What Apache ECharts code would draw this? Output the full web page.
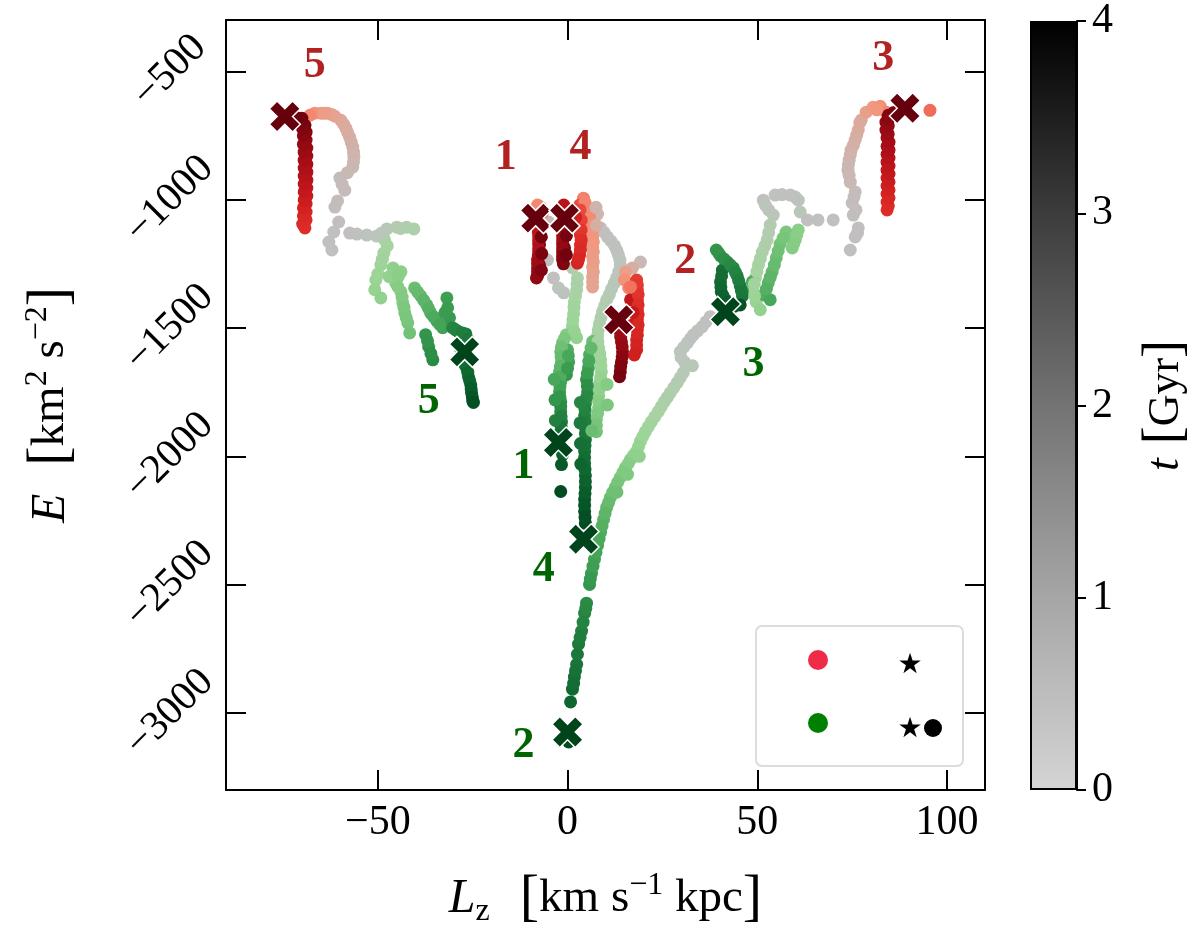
<!DOCTYPE html>
<html>
<head>
<meta charset="utf-8">
<script src="https://cdn.jsdelivr.net/npm/echarts@6/dist/echarts.min.js"></script>
<style>html,body{margin:0;padding:0;background:#fff}#c{width:1200px;height:948px}</style>
</head>
<body>
<div id="c"></div>
<script>
// Each point: [Lz (km s^-1 kpc), E (km^2 s^-2), t (Gyr)]
const red5 = [[-62.1,-1196,0.0],[-62.9,-1165,0.1],[-61.6,-1126,0.2],[-57.4,-1130,0.25],[-60.3,-1087,0.35],[-61.3,-1029,0.5],[-58.7,-963,0.6],[-60,-916,0.7],[-56.6,-873,0.85],[-56.3,-834,1.0],[-56.6,-795,1.1],[-57.4,-757,1.2],[-58.4,-722,1.3],[-59.7,-691,1.4],[-61.3,-675,1.5],[-63.2,-663,1.6],[-65,-663,1.7],[-66.6,-663,1.8],[-67.9,-671,1.9],
  [-69.2,-1110,2.5],[-68.9,-1079,2.6],[-68.9,-1048,2.7],[-68.9,-1017,2.8],[-68.7,-986,2.9],[-68.7,-955,3.0],[-68.7,-924,3.1],[-68.7,-893,3.2],[-68.7,-862,3.3],[-68.7,-830,3.4],[-68.7,-799,3.5],[-68.9,-768,3.6],[-68.9,-737,3.7],[-69.2,-710,3.8],[-70,-683,3.9],
  [-69.8,-1095,2.55],[-69.6,-1063,2.65],[-69.6,-1032,2.75],[-69.4,-1001,2.85],[-69.4,-970,2.95],[-69.4,-939,3.05],[-69.4,-908,3.15],[-69.4,-877,3.25],[-69.4,-846,3.35],[-69.4,-815,3.45],[-69.6,-784,3.55],[-69.6,-752,3.65],[-69.8,-724,3.75],[-70.5,-697,3.85],[-71.5,-680,3.95],
  [-60.6,-1005,0.55],[-59.4,-940,0.65],[-58,-895,0.78],[-56.4,-853,0.92],[-56.4,-815,1.05],[-57,-776,1.15],[-57.9,-740,1.25],[-59,-706,1.35],[-62.2,-668,1.55],[-64.1,-663,1.65]];
const green5 = [[-52.9,-1138,0.3],[-50.3,-1142,0.45],[-47.6,-1114,0.6],[-45,-1107,0.7],[-42.4,-1107,0.8],[-40.5,-1114,0.9],[-48.2,-1157,1.0],[-48.4,-1208,1.1],[-49.2,-1254,1.2],[-50.5,-1313,1.3],[-50.8,-1351,1.35],[-49.2,-1383,1.4],[-46,-1266,1.45],[-43.9,-1281,1.5],[-45.3,-1324,1.55],[-43.9,-1359,1.6],[-43.4,-1402,1.65],[-42.9,-1441,1.7],[-42.1,-1480,1.75],[-41.6,-1519,1.8],
  [-40.3,-1344,1.9],[-38.7,-1375,2.0],[-37.1,-1410,2.1],[-36.1,-1441,2.2],[-34.5,-1472,2.3],[-32.9,-1499,2.4],[-31.8,-1383,2.45],[-31.6,-1421,2.5],[-31.1,-1460,2.55],[-37.4,-1526,2.6],[-36.6,-1573,2.7],[-35.5,-1624,2.8],[-30.3,-1499,2.9],[-28.7,-1515,3.0],[-26.8,-1523,3.1],[-26.6,-1565,3.2],[-27.6,-1624,3.3],[-26.6,-1655,3.4],[-26.1,-1690,3.5],[-25.5,-1721,3.6],[-25.3,-1752,3.7],[-25,-1783,3.8],
  [-55.5,-1134,0.2],[-49,-1130,0.5],[-44,-1112,0.75],[-47.5,-1180,1.05],[-48.8,-1232,1.15],[-50,-1290,1.25],[-47,-1300,1.4],[-44.6,-1300,1.52],[-44.7,-1340,1.58],[-43.6,-1380,1.62],[-43.1,-1420,1.68],[-42.5,-1460,1.72],[-39.5,-1360,1.95],[-37.9,-1392,2.05],[-36.6,-1425,2.15],[-35.3,-1456,2.25],[-33.7,-1486,2.35],[-32.3,-1440,2.5],[-36.9,-1550,2.65],[-36,-1600,2.75],[-29.5,-1507,2.95],[-27.7,-1519,3.05],[-26.2,-1545,3.15],[-27,-1600,3.25],[-27.2,-1640,3.35],[-26.3,-1672,3.45],[-25.8,-1705,3.55],[-25.4,-1737,3.65],[-25.1,-1768,3.75],[-24.8,-1790,3.85],[-28.2,-1580,3.5]];
const red1 = [[-3.7,-1305,0.2],[-5.3,-1235,0.4],[-5,-1087,0.8],[-7.1,-1029,1.6],[-7.9,-1021,1.9],
  [-7.9,-1110,3.0],[-7.6,-1142,3.1],[-7.6,-1173,3.2],[-7.6,-1204,3.3],[-7.9,-1235,3.4],[-7.9,-1266,3.5],[-7.9,-1297,3.6],[-7.4,-1254,3.7],[-7.4,-1177,3.8],[-7.6,-1118,3.9],
  [-7.7,-1126,3.05],[-7.6,-1158,3.15],[-7.6,-1190,3.25],[-7.7,-1220,3.35],[-7.9,-1250,3.45],[-7.9,-1282,3.55],[-8.2,-1305,3.6],[-6.9,-1275,3.75],[-6.8,-1210,3.8],[-6.9,-1145,3.85],[-6.6,-1050,2.2]];
const red4 = [[7.9,-1056,0.9],[6.6,-1340,1.5],[6.6,-1301,1.55],[6.6,-1262,1.6],[6.6,-1223,1.65],[6.6,-1184,1.7],[6.6,-1145,1.75],[6.3,-1107,1.8],[5.8,-1068,1.85],[5,-1029,1.9],[4.2,-994,1.95],
  [3.2,-1021,2.3],[3.4,-1060,2.35],[3.4,-1099,2.4],[3.4,-1138,2.5],[3.4,-1177,2.55],[3.2,-1215,2.6],[2.6,-1247,2.7],[1.3,-1040,2.9],[-1,-1021,3.1],
  [-1.3,-1110,3.3],[-1.3,-1142,3.4],[-1.3,-1173,3.5],[-1.3,-1204,3.6],[-1.3,-1235,3.7],[-0.8,-1188,3.8],
  [6.6,-1320,1.52],[6.8,-1281,1.57],[6.8,-1242,1.62],[6.8,-1203,1.67],[6.8,-1164,1.72],[6.5,-1126,1.77],[6.1,-1087,1.82],[5.4,-1048,1.87],[4.6,-1010,1.92],[3.3,-1040,2.32],[3.6,-1080,2.37],[3.6,-1118,2.45],[3.6,-1158,2.52],[3.4,-1196,2.57],[2.9,-1232,2.65],[2.1,-1070,2.8],[-1.3,-1126,3.35],[-1.3,-1157,3.45],[-1.3,-1188,3.55],[-1.3,-1220,3.65],[-1.1,-1250,3.75],[-0.3,-1140,3.85],[-0.3,-1215,3.9],[7.5,-1030,1.0],[7.6,-1100,1.2]];
const red2 = [[19.2,-1243,0.8],[17.1,-1266,1.2],[15.3,-1282,1.6],[15,-1313,1.8],[16.1,-1344,1.9],
  [18.2,-1313,2.4],[18.4,-1351,2.45],[18.4,-1390,2.5],[18.4,-1429,2.55],[18.4,-1468,2.6],[18.4,-1507,2.65],[18.2,-1546,2.7],[18.2,-1585,2.75],[17.1,-1488,2.9],[16.6,-1390,3.0],
  [13.9,-1515,3.4],[14.2,-1554,3.5],[14.5,-1593,3.6],[14.2,-1632,3.7],[13.9,-1670,3.8],
  [18.4,-1332,2.42],[18.6,-1370,2.47],[18.6,-1410,2.52],[18.6,-1448,2.57],[18.6,-1488,2.62],[18.4,-1527,2.67],[18.2,-1566,2.72],[17.6,-1605,2.8],[17.3,-1440,2.95],[16.6,-1340,2.05],[14,-1535,3.45],[14.4,-1573,3.55],[14.4,-1612,3.65],[14,-1650,3.75],[13.7,-1690,3.85]];
const red3 = [[70,-1079,0.05],[66,-1079,0.1],[63.2,-1079,0.15],[74.5,-1196,0.0],[75.8,-1145,0.2],[76.6,-1110,0.3],[75.3,-1060,0.4],[75,-1013,0.5],[75.8,-970,0.6],[74.5,-932,0.8],[73.9,-885,0.9],[74.2,-846,1.0],[74.7,-807,1.1],[75.8,-768,1.2],[76.6,-729,1.3],[77.4,-690,1.4],[78.7,-659,1.6],[80.5,-640,1.7],[82.4,-636,1.8],[83.9,-659,1.9],[95.5,-652,2.1],
  [84.2,-1040,2.5],[84.2,-1009,2.6],[84.2,-978,2.7],[84.2,-947,2.8],[84.2,-916,2.9],[84.2,-885,3.0],[84.2,-854,3.1],[84.2,-823,3.2],[84.2,-792,3.3],[84.2,-760,3.4],[83.9,-729,3.5],[83.9,-698,3.6],[84.5,-671,3.7],
  [84.5,-1025,2.55],[84.7,-993,2.65],[84.7,-962,2.75],[84.7,-931,2.85],[84.7,-900,2.95],[84.7,-869,3.05],[84.7,-838,3.15],[84.7,-807,3.25],[84.7,-776,3.35],[84.5,-744,3.45],[84.5,-713,3.55],[84.7,-685,3.65],[86,-660,3.8],[81.5,-650,1.75],[77,-700,1.35],[76.2,-748,1.25],[75.3,-788,1.15],[74.5,-826,1.05],[74,-865,0.95],[74.2,-905,0.85],[75.5,-990,0.55],[76,-1040,0.45],[76.4,-1130,0.25]];
const green3 = [[51.6,-1002,0.0],[54.7,-982,0.1],[58.7,-982,0.2],[60.8,-1002,0.3],[52.1,-1021,0.35],[54.2,-1060,0.5],[61.3,-1048,0.55],[53.4,-1099,0.7],[52.6,-1157,0.8],[51.3,-1204,0.9],[50.3,-1254,1.0],[49.5,-1305,1.1],[48.9,-1351,1.2],[49.7,-1398,1.3],[50.8,-1429,1.4],
  [60.8,-1118,1.5],[60,-1157,1.55],[59.2,-1188,1.6],[57.6,-1126,1.7],[56,-1173,1.8],[55,-1227,1.9],[53.9,-1282,2.0],[52.9,-1324,2.1],[51.8,-1371,2.2],[48.7,-1320,2.25],[53.4,-1390,2.3],[46.1,-1355,2.4],
  [39.2,-1196,2.6],[40.3,-1219,2.7],[42.1,-1243,2.8],[43.7,-1266,2.9],[44.7,-1297,3.0],[45.5,-1336,3.1],[46.1,-1375,3.2],[40.8,-1274,3.3],[40.3,-1320,3.4],[40.5,-1359,3.5],[41.6,-1390,3.6],[42.9,-1413,3.7],[45.5,-1410,3.8],
  [56.5,-980,0.15],[60,-990,0.25],[53,-1040,0.45],[53,-1128,0.75],[52,-1180,0.85],[50.8,-1230,0.95],[49.9,-1280,1.05],[49.2,-1328,1.15],[49.3,-1375,1.25],[60.4,-1138,1.52],[59.6,-1172,1.58],[56.8,-1150,1.75],[55.5,-1200,1.85],[54.5,-1255,1.95],[53.4,-1303,2.05],[52.4,-1348,2.15],[39.8,-1208,2.65],[41.2,-1231,2.75],[42.9,-1255,2.85],[44.2,-1282,2.95],[45.1,-1316,3.05],[45.8,-1355,3.15],[40.6,-1297,3.35],[40.4,-1340,3.45],[41,-1375,3.55],[42.2,-1402,3.65],[44,-1415,3.75]];
const green2 = [[37.6,-1456,0.0],[35.5,-1495,0.1],[33.2,-1526,0.2],[31.6,-1557,0.3],[29.7,-1593,0.4],[30.8,-1632,0.5],[32.9,-1647,0.55],[30.5,-1674,0.6],[28.9,-1713,0.7],[27.1,-1752,0.8],[25.5,-1787,0.9],[23.9,-1826,1.0],[22.1,-1865,1.1],[20.5,-1904,1.2],[19.2,-1942,1.3],[18.2,-1981,1.4],[16.6,-2012,1.5],[15.3,-2043,1.6],[13.9,-2082,1.7],[12.6,-2121,1.8],[11.3,-2160,1.9],[10.3,-2199,2.0],[9.5,-2246,2.1],[8.7,-2296,2.2],[7.9,-2347,2.3],[7.1,-2401,2.4],[6.3,-2456,2.5],[5.8,-2499,2.6],
  [5,-2572,2.8],[4.5,-2611,2.9],[3.7,-2681,3.0],[2.9,-2732,3.1],[2.4,-2810,3.2],[1.8,-2860,3.3],[1.3,-2907,3.4],[0.8,-2957,3.5],[0.3,-3113,3.9],
  [36.5,-1476,0.05],[34.3,-1511,0.15],[32.4,-1541,0.25],[30.6,-1575,0.35],[29.9,-1615,0.45],[29.7,-1693,0.65],[28,-1732,0.75],[26.3,-1770,0.85],[24.7,-1806,0.95],[23,-1845,1.05],[21.3,-1884,1.15],[19.8,-1923,1.25],[18.7,-1962,1.35],[17.4,-1996,1.45],[16,-2028,1.55],[14.6,-2062,1.65],[13.2,-2101,1.75],[11.9,-2140,1.85],[10.8,-2180,1.95],[9.9,-2222,2.05],[9.1,-2271,2.15],[8.3,-2322,2.25],[7.5,-2374,2.35],[6.7,-2428,2.45],[6,-2478,2.55],[4.8,-2592,2.85],[4.1,-2646,2.95],[3.3,-2706,3.05],[2.6,-2771,3.15],[2.1,-2835,3.25],[1.6,-2884,3.35],[18.9,-2000,1.45],[15.8,-2070,1.65],[13,-2140,1.85]];
const green1 = [[-1,-1363,0.2],[-2.4,-1344,0.3],[1.3,-1266,0.7],[2.6,-1305,0.9],[2.4,-1351,1.0],[1.8,-1398,1.1],[1.6,-1445,1.2],[1.3,-1491,1.3],[2.4,-1538,1.4],[-0.3,-1526,1.6],[-1.3,-1557,1.8],[-1.8,-1593,1.9],[-1.6,-1632,2.0],[-2.1,-1670,2.1],[0,-1585,2.2],[-1.8,-1709,2.3],[0.3,-1632,2.4],[-2.1,-1748,2.5],[-0.3,-1682,2.6],[-1.8,-1787,2.7],[-1.8,-1826,2.9],[-1.6,-1865,3.1],[-1.8,-1904,3.3],[-1.3,-1993,3.6],[-1.6,-2032,3.7],[-1.8,-2137,3.9],
  [2.5,-1328,0.95],[2.1,-1375,1.05],[1.7,-1420,1.15],[1.4,-1468,1.25],[1.8,-1515,1.35],[-0.8,-1541,1.7],[-1.6,-1575,1.85],[-1.7,-1612,1.95],[-1.9,-1650,2.05],[-1.9,-1690,2.2],[-2,-1728,2.4],[-2,-1768,2.6],[-1.8,-1806,2.8],[-1.7,-1845,3.0],[-1.7,-1884,3.2],[-1.8,-1920,3.4],[0.2,-1608,2.3],[0,-1657,2.5],[-3.5,-1700,2.3],[-3.3,-1780,2.6],[-3.2,-1860,3.0],[-1.2,-1975,3.55]];
const green4 = [[8.7,-1110,0.0],[10.5,-1145,0.1],[12.4,-1180,0.2],[13.4,-1215,0.3],[13.9,-1254,0.4],[12.9,-1305,0.5],[11.6,-1348,0.6],[10.3,-1390,0.7],[9.2,-1437,0.8],[8.4,-1484,0.9],[7.9,-1530,1.0],[8.2,-1577,1.1],[8.7,-1624,1.2],[8.9,-1670,1.3],[8.4,-1717,1.4],[8.2,-1764,1.5],[8.2,-1810,1.6],[7.6,-1857,1.7],[7.6,-1904,1.8],
  [6.6,-1553,1.9],[5.8,-1604,2.2],[5.5,-1655,2.4],[5,-1701,2.7],[5.3,-1748,2.8],[4.7,-1795,2.9],[4.5,-1841,3.0],[4.7,-1888,3.1],[4.7,-1935,3.2],[4.5,-1981,3.3],[4.5,-2028,3.4],[4.7,-2075,3.5],[4.7,-2121,3.6],[4.5,-2168,3.7],[4.5,-2215,3.8],[4.7,-2261,3.9],
  [9.6,-1127,0.05],[11.5,-1162,0.15],[13,-1198,0.25],[13.8,-1235,0.35],[13.5,-1280,0.45],[12.3,-1326,0.55],[11,-1370,0.65],[9.8,-1413,0.75],[8.8,-1460,0.85],[8.1,-1507,0.95],[8,-1553,1.05],[8.5,-1600,1.15],[8.8,-1647,1.25],[8.7,-1693,1.35],[8.3,-1740,1.45],[8.2,-1787,1.55],[7.9,-1833,1.65],[7.6,-1880,1.75],[6.2,-1578,2.0],[5.6,-1630,2.3],[5.2,-1678,2.5],[5.2,-1725,2.75],[5,-1771,2.85],[4.6,-1818,2.95],[4.6,-1865,3.05],[4.7,-1911,3.15],[4.6,-1958,3.25],[4.5,-2005,3.35],[4.6,-2051,3.45],[4.7,-2098,3.55],[4.6,-2145,3.65],[4.5,-2191,3.75],[4.6,-2238,3.85],[3.4,-1790,2.9],[3.3,-1870,3.1],[3.4,-1950,3.3],[3.5,-2030,3.5],[10.4,-1720,1.6],[10.5,-1800,1.7],[6.4,-1900,1.9]];

// final positions (X markers)
const redFinal = [[-74.5,-676],[-8.4,-1072],[13.5,-1468],[88.9,-644],[-0.8,-1072]];
const greenFinal = [[-2.4,-1946],[0,-3074],[41.6,-1437],[4.2,-2323],[-27.1,-1593]];
// track labels
const redLabels = [['1',-16.3,-838],['2',31,-1243],['3',83.2,-450],['4',3.4,-799],['5',-66.6,-477]];
const greenLabels = [['1',-11.6,-2040],['2',-11.6,-3128],['3',49,-1643],['4',-6.3,-2440],['5',-36.6,-1787]];

const xTicks = [-50, 0, 50, 100];
const yTicks = [-3000, -2500, -2000, -1500, -1000, -500];
const cbTicks = [0, 1, 2, 3, 4];

const redColors = ['#c0c0c0','#c1bfbf','#c3bdbc','#c7bab6','#cdb5ae','#d7ada2','#e3a592','#f2977e','#f47c66','#ea5443','#de2e28','#d2211f','#c2161c','#ae0f18','#990a14','#800510','#67000d'];
const greenColors = ['#c0c0c0','#bec2be','#bac6ba','#b2ccb0','#a8d2a4','#9cd597','#8ccf89','#78c57a','#62b86c','#4caa5d','#3a9c51','#2c8e47','#21803f','#177237','#0e6530','#075628','#00441b'];

const SERIF = 'Liberation Serif';
const minus = v => String(v).replace('-', '\u2212');
const XPATH = 'path://M0,2.5L2.5,0L5,2.5L7.5,0L10,2.5L7.5,5L10,7.5L7.5,10L5,7.5L2.5,10L0,7.5L2.5,5Z';

const trackOrder = [
  ['g', green2], ['g', green3], ['g', green4], ['g', green1], ['g', green5],
  ['r', red5], ['r', red3], ['r', red1], ['r', red4], ['r', red2]
];
const series = [];
const redIdx = [], greenIdx = [];
trackOrder.forEach(([k, d]) => {
  (k === 'r' ? redIdx : greenIdx).push(series.length);
  series.push({type:'scatter', xAxisIndex:0, yAxisIndex:0, symbolSize:13, data:d, z:2, itemStyle:{opacity:1}});
});
series.push({type:'scatter', xAxisIndex:0, yAxisIndex:0, symbol:XPATH, symbolSize:31, data:redFinal, z:5,
  itemStyle:{color:'#67000d', borderColor:'#fff', borderWidth:1.5, opacity:1}});
series.push({type:'scatter', xAxisIndex:0, yAxisIndex:0, symbol:XPATH, symbolSize:31, data:greenFinal, z:5,
  itemStyle:{color:'#00441b', borderColor:'#fff', borderWidth:1.5, opacity:1}});
const lblSeries = (arr, color) => ({type:'scatter', xAxisIndex:0, yAxisIndex:0, symbolSize:0, z:6, silent:true,
  itemStyle:{opacity:1},
  data: arr.map(a => ({name:a[0], value:[a[1], a[2]]})),
  label:{show:true, position:'inside', formatter:'{b}', color:color, opacity:1, fontFamily:SERIF, fontWeight:'bold', fontSize:44}});
series.push(lblSeries(redLabels, '#b22222'));
series.push(lblSeries(greenLabels, '#006400'));
// colorbar
series.push({type:'bar', xAxisIndex:2, yAxisIndex:2, data:[cbTicks[cbTicks.length-1]], barWidth:'100%', silent:true,
  itemStyle:{borderColor:'#000', borderWidth:2,
    color:new echarts.graphic.LinearGradient(0,0,0,1,[
      {offset:0,color:'#000000'},{offset:0.25,color:'#3c3c3c'},{offset:0.5,color:'#737373'},{offset:0.75,color:'#a6a6a6'},{offset:1,color:'#d4d4d4'}])}});

const axLine = {show:true, onZero:false, lineStyle:{color:'#000', width:2}};
const tickIn = {show:true, inside:true, length:20, lineStyle:{color:'#000', width:2}};

const chart = echarts.init(document.getElementById('c'), null, {renderer:'canvas'});
chart.setOption({
  animation:false,
  backgroundColor:'#fff',
  grid:[
    {left:226, top:20, width:759, height:770},
    {left:1030, top:20, width:47, height:770}
  ],
  visualMap:[
    {type:'continuous', show:false, dimension:2, min:0, max:4, seriesIndex:redIdx, inRange:{color:redColors}},
    {type:'continuous', show:false, dimension:2, min:0, max:4, seriesIndex:greenIdx, inRange:{color:greenColors}}
  ],
  xAxis:[
    {type:'value', gridIndex:0, position:'bottom', min:-90, max:110, splitLine:{show:false},
     axisLine:axLine, axisTick:Object.assign({customValues:xTicks}, tickIn),
     axisLabel:{customValues:xTicks, formatter:minus, fontFamily:SERIF, fontSize:42, color:'#000', margin:12},
     name:'{i|L}{sub|z}{sp|}{b|[}{n|km s}{s|\u22121}{n| kpc}{b|]}', nameLocation:'middle', nameGap:80,
     nameTextStyle:{color:'#000', fontFamily:SERIF, rich:{
       i:{fontFamily:SERIF, fontStyle:'italic', fontSize:48, color:'#000'},
       sub:{fontFamily:SERIF, fontSize:32, color:'#000', verticalAlign:'bottom'},
       sp:{width:30},
       n:{fontFamily:SERIF, fontSize:47, color:'#000'},
       s:{fontFamily:SERIF, fontSize:32, color:'#000', verticalAlign:'top'},
       b:{fontFamily:SERIF, fontSize:58, color:'#000'}}}},
    {type:'value', gridIndex:0, position:'top', min:-90, max:110, splitLine:{show:false},
     axisLine:axLine, axisTick:Object.assign({customValues:xTicks}, tickIn), axisLabel:{show:false}},
    {type:'category', gridIndex:1, data:['t'], show:false}
  ],
  yAxis:[
    {type:'value', gridIndex:0, position:'left', min:-3300, max:-300, splitLine:{show:false},
     axisLine:axLine, axisTick:Object.assign({customValues:yTicks}, tickIn),
     axisLabel:{customValues:yTicks, formatter:minus, fontFamily:SERIF, fontSize:41, color:'#000', rotate:45, align:'center', verticalAlign:'middle', margin:56},
     name:'{i|E}{sp|}{b|[}{n|km}{s|2}{n| s}{s|\u22122}{b|]}', nameLocation:'middle', nameGap:146, nameRotate:90,
     nameTextStyle:{color:'#000', fontFamily:SERIF, rich:{
       i:{fontFamily:SERIF, fontStyle:'italic', fontSize:48, color:'#000'},
       sp:{width:28},
       n:{fontFamily:SERIF, fontSize:47, color:'#000'},
       s:{fontFamily:SERIF, fontSize:32, color:'#000', verticalAlign:'top'},
       b:{fontFamily:SERIF, fontSize:58, color:'#000'}}}},
    {type:'value', gridIndex:0, position:'right', min:-3300, max:-300, splitLine:{show:false},
     axisLine:axLine, axisTick:Object.assign({customValues:yTicks}, tickIn), axisLabel:{show:false}},
    {type:'value', gridIndex:1, position:'right', min:0, max:4, interval:1, splitLine:{show:false},
     axisLine:{show:true, onZero:false, lineStyle:{color:'#000', width:2}},
     axisTick:{show:true, inside:false, length:9, lineStyle:{color:'#000', width:2}},
     axisLabel:{fontFamily:SERIF, fontSize:42, color:'#000', margin:15},
     name:'{i|t}{sp|}{b|[}{n|Gyr}{b|]}', nameLocation:'middle', nameGap:62, nameRotate:90,
     nameTextStyle:{color:'#000', fontFamily:SERIF, rich:{
       i:{fontFamily:SERIF, fontStyle:'italic', fontSize:46, color:'#000'},
       sp:{width:14},
       n:{fontFamily:SERIF, fontSize:44, color:'#000'},
       b:{fontFamily:SERIF, fontSize:54, color:'#000'}}}}
  ],
  graphic:[
    {type:'rect', shape:{x:756, y:626, width:207, height:140, r:6}, style:{fill:'rgba(255,255,255,0.9)', stroke:'#dcdcdc', lineWidth:2}, z:10},
    {type:'circle', shape:{cx:818, cy:660, r:10}, style:{fill:'#ee2c47'}, z:11},
    {type:'circle', shape:{cx:818, cy:723, r:10}, style:{fill:'#008000'}, z:11},
    {type:'text', x:910, y:666, style:{text:'\u2605', font:'28px "DejaVu Sans"', fill:'#000', align:'center', verticalAlign:'middle'}, z:11},
    {type:'text', x:910, y:730, style:{text:'\u2605', font:'28px "DejaVu Sans"', fill:'#000', align:'center', verticalAlign:'middle'}, z:11},
    {type:'circle', shape:{cx:933, cy:728, r:9}, style:{fill:'#000'}, z:11}
  ],
  series:series
});
</script>
</body>
</html>
